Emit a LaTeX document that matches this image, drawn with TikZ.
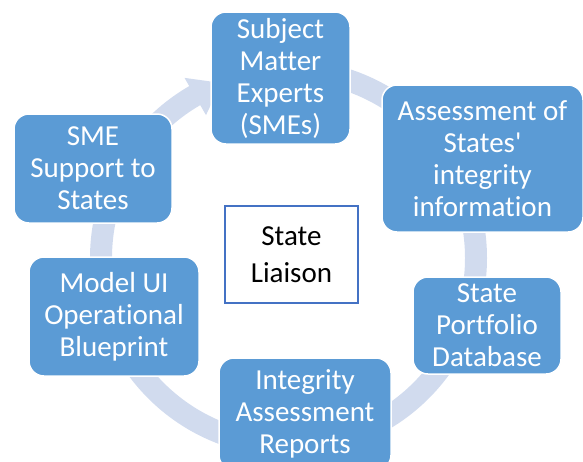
\documentclass[tikz,border=0pt]{standalone}
\usepackage{fontspec}
\setmainfont{Carlito}[Ligatures={NoCommon}]
\usetikzlibrary{positioning}
\definecolor{boxblue}{RGB}{91,155,213}
\definecolor{ringblue}{RGB}{209,219,238}
\definecolor{liaisonblue}{RGB}{68,114,196}
\tikzset{
  cyclebox/.style={rectangle, rounded corners=15pt, fill=boxblue, draw=white,
    line width=1.5pt, text=white, align=center, inner sep=0pt,
    font=\fontsize{29}{32}\selectfont},
  hubbox/.style={rectangle, draw=liaisonblue, line width=1.2pt, fill=white,
    align=center, inner sep=0pt, minimum width=133pt, minimum height=97pt,
    font=\fontsize{29}{37}\selectfont},
  ring/.style={ringblue, line width=22pt}
}

\begin{document}
\begin{tikzpicture}[x=1pt, y=-1pt]
    \useasboundingbox (0,0) rectangle (583,461);

    % Dessine l'anneau
    \coordinate (ctr) at (288.5,258);
    \draw[ring] ([shift={(-90:187.5)}]ctr) arc[start angle=-90, end angle=241, radius=187.5];
    \coordinate (headA) at ([shift={(240:208)}]ctr);
    \coordinate (headB) at ([shift={(240:165)}]ctr);
    \coordinate (headT) at ([shift={(249:187.5)}]ctr);
    \fill[ringblue] (headA) -- (headT) -- (headB) -- cycle;

    % Dessine les blocs
    \node[cyclebox, minimum width=139pt, minimum height=132pt] (sme) at (280.5,78)
        {Subject\\Matter\\Experts\\(SMEs)};
    \node[cyclebox, minimum width=201pt, minimum height=147pt] (assess) at (482.5,158.5)
        {Assessment of\\States\textquotesingle\\integrity\\information};
    \node[cyclebox, minimum width=148pt, minimum height=97pt] (portfolio) at (487,325.5)
        {State\\Portfolio\\Database};
    \node[cyclebox, minimum width=172pt, minimum height=112pt] (reports) at (305,414)
        {Integrity\\Assessment\\Reports};
    \node[cyclebox, minimum width=170pt, minimum height=119pt] (blueprint) at (114,316.5)
        {Model UI\\Operational\\Blueprint};
    \node[cyclebox, minimum width=158pt, minimum height=109pt] (support) at (93,168.5)
        {SME\\Support to\\States};

    \node[hubbox] (liaison) at (291.5,254.5) {State\\Liaison};
\end{tikzpicture}
\end{document}
